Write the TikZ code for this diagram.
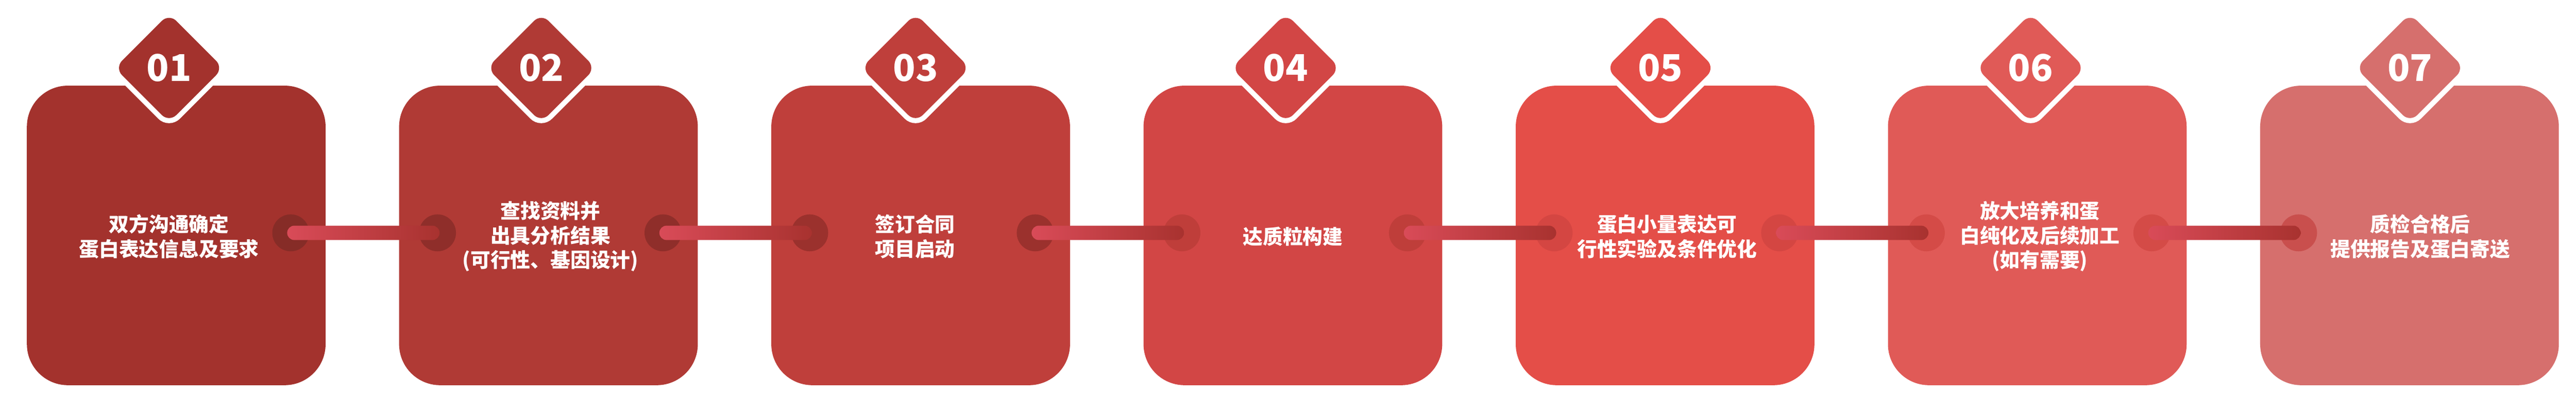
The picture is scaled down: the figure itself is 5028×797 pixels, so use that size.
\documentclass[tikz,border=0pt]{standalone}
\usepackage{fontspec}
\newfontfamily\cjk{Noto Sans CJK SC}
\usetikzlibrary{positioning, shapes.geometric}

\definecolor{box1}{HTML}{A3322D}
\definecolor{box2}{HTML}{B03A35}
\definecolor{box3}{HTML}{BF3F3B}
\definecolor{box4}{HTML}{D24645}
\definecolor{box5}{HTML}{E44E48}
\definecolor{box6}{HTML}{E05A57}
\definecolor{box7}{HTML}{D66F6D}
\definecolor{hole1}{HTML}{862C27}
\definecolor{hole2}{HTML}{8F2E2A}
\definecolor{hole3}{HTML}{9B312D}
\definecolor{hole4}{HTML}{BF3E3A}
\definecolor{hole5}{HTML}{D44642}
\definecolor{hole6}{HTML}{D44B47}
\definecolor{hole7}{HTML}{C94F4D}
\definecolor{barL}{HTML}{D94B58}
\definecolor{barR}{HTML}{A8322F}

\begin{document}
\begin{tikzpicture}[x=1pt, y=-1pt, node distance=143.5pt,
    stepbox/.style={rectangle, rounded corners=80pt, minimum width=583pt, minimum height=584pt, outer sep=0pt, inner sep=0pt},
    badge/.style={diamond, aspect=1, minimum size=212pt, inner sep=0pt, rounded corners=20pt, text=white,
        font=\cjk\bfseries\fontsize{72}{72}\selectfont, preaction={draw=white, line width=20pt}},
    hole/.style={circle, minimum size=72pt, inner sep=0pt, outer sep=0pt},
    steptext/.style={text=white, align=center, font=\cjk\bfseries\fontsize{39}{48}\selectfont},
    bar/.style={left color=barL, right color=barR, rounded corners=14pt}]

    \useasboundingbox (0,0) rectangle (5028,797);

    %define the steps
    \node[stepbox, fill=box1] (b1) at (344,459) {};
    \node[stepbox, fill=box2, right=of b1] (b2) {};
    \node[stepbox, fill=box3, right=of b2] (b3) {};
    \node[stepbox, fill=box4, right=of b3] (b4) {};
    \node[stepbox, fill=box5, right=of b4] (b5) {};
    \node[stepbox, fill=box6, right=of b5] (b6) {};
    \node[stepbox, fill=box7, right=of b6] (b7) {};

    %define the holes
    \node[hole, fill=hole1] (h1r) at ([xshift=-68pt, yshift=5pt]b1.east) {};
    \node[hole, fill=hole2] (h2l) at ([xshift=75pt, yshift=5pt]b2.west) {};
    \node[hole, fill=hole2] (h2r) at ([xshift=-68pt, yshift=5pt]b2.east) {};
    \node[hole, fill=hole3] (h3l) at ([xshift=75pt, yshift=5pt]b3.west) {};
    \node[hole, fill=hole3] (h3r) at ([xshift=-68pt, yshift=5pt]b3.east) {};
    \node[hole, fill=hole4] (h4l) at ([xshift=75pt, yshift=5pt]b4.west) {};
    \node[hole, fill=hole4] (h4r) at ([xshift=-68pt, yshift=5pt]b4.east) {};
    \node[hole, fill=hole5] (h5l) at ([xshift=75pt, yshift=5pt]b5.west) {};
    \node[hole, fill=hole5] (h5r) at ([xshift=-68pt, yshift=5pt]b5.east) {};
    \node[hole, fill=hole6] (h6l) at ([xshift=75pt, yshift=5pt]b6.west) {};
    \node[hole, fill=hole6] (h6r) at ([xshift=-68pt, yshift=5pt]b6.east) {};
    \node[hole, fill=hole7] (h7l) at ([xshift=75pt, yshift=5pt]b7.west) {};

    %define the links
    \shade[bar] ([xshift=-7pt, yshift=14pt]h1r.center) rectangle ([xshift=4pt, yshift=-14pt]h2l.center);
    \shade[bar] ([xshift=-7pt, yshift=14pt]h2r.center) rectangle ([xshift=4pt, yshift=-14pt]h3l.center);
    \shade[bar] ([xshift=-7pt, yshift=14pt]h3r.center) rectangle ([xshift=4pt, yshift=-14pt]h4l.center);
    \shade[bar] ([xshift=-7pt, yshift=14pt]h4r.center) rectangle ([xshift=4pt, yshift=-14pt]h5l.center);
    \shade[bar] ([xshift=-7pt, yshift=14pt]h5r.center) rectangle ([xshift=4pt, yshift=-14pt]h6l.center);
    \shade[bar] ([xshift=-7pt, yshift=14pt]h6r.center) rectangle ([xshift=4pt, yshift=-14pt]h7l.center);

    %define the numbers
    \node[badge, fill=box1] (d1) at ([xshift=-14pt, yshift=34.5pt]b1.north) {01};
    \node[badge, fill=box2] (d2) at ([xshift=-14pt, yshift=34.5pt]b2.north) {02};
    \node[badge, fill=box3] (d3) at ([xshift=-10pt, yshift=34.5pt]b3.north) {03};
    \node[badge, fill=box4] (d4) at ([xshift=-14pt, yshift=34.5pt]b4.north) {04};
    \node[badge, fill=box5] (d5) at ([xshift=-9pt, yshift=34.5pt]b5.north) {05};
    \node[badge, fill=box6] (d6) at ([xshift=-13pt, yshift=34.5pt]b6.north) {06};
    \node[badge, fill=box7] (d7) at ([xshift=1pt, yshift=34.5pt]b7.north) {07};

    %define the texts
    \node[steptext] (t1) at ([xshift=-14pt, yshift=-2pt]b1.center) {双方沟通确定\\蛋白表达信息及要求};
    \node[steptext] (t2) at ([xshift=4pt, yshift=-2pt]b2.center) {查找资料并\\出具分析结果\\(可行性、基因设计)};
    \node[steptext] (t3) at ([xshift=-11pt, yshift=-2pt]b3.center) {签订合同\\项目启动};
    \node[steptext] (t4) at ([yshift=-2pt]b4.center) {达质粒构建};
    \node[steptext] (t5) at ([xshift=4pt, yshift=-2pt]b5.center) {蛋白小量表达可\\行性实验及条件优化};
    \node[steptext] (t6) at ([xshift=5pt, yshift=-2pt]b6.center) {放大培养和蛋\\白纯化及后续加工\\(如有需要)};
    \node[steptext] (t7) at ([xshift=21pt, yshift=-2pt]b7.center) {质检合格后\\提供报告及蛋白寄送};
\end{tikzpicture}
\end{document}
